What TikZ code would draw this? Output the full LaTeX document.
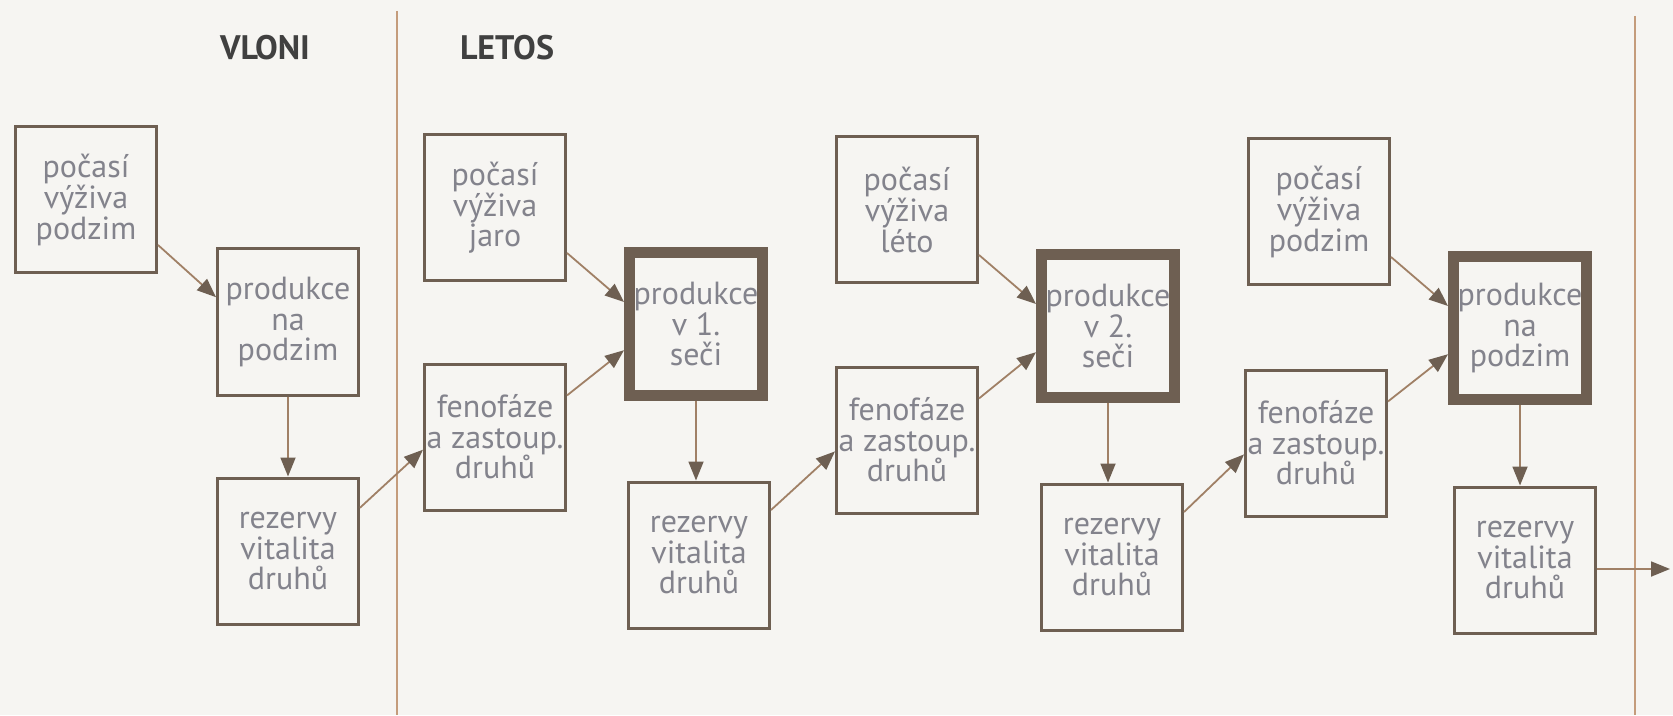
\documentclass[tikz,border=0pt]{standalone}
\usepackage{fontspec}
\setmainfont{PT Sans}
\usetikzlibrary{arrows.meta}
\definecolor{bgpaper}{HTML}{F6F5F2}
\definecolor{boxbrown}{HTML}{6E5F52}
\definecolor{txtgray}{HTML}{83838C}
\definecolor{linetan}{HTML}{C49C7C}
\definecolor{arrowtan}{HTML}{A08066}

\begin{document}
\begin{tikzpicture}[x=0.5pt, y=-0.5pt,
        >={Triangle[length=9.5pt,width=7.5pt,color=boxbrown]}]
      \tikzstyle{factor} = [draw=boxbrown, line width=1.5pt, minimum width=70.5pt,
        minimum height=73pt, inner sep=0pt, align=center, text=txtgray,
        font=\fontsize{16}{15.3}\selectfont]
      \tikzstyle{harvest} = [factor, line width=5.5pt, minimum width=66.5pt, minimum height=71pt]
      \tikzstyle{flow} = [->, draw=arrowtan, line width=0.9pt]
      \tikzstyle{season} = [font=\fontsize{17}{19}\selectfont\bfseries, text=black!75]
      \fill[bgpaper] (0,0) rectangle (1673,715);
      \draw[linetan, line width=0.8pt] (397,11) -- (397,715);
      \draw[linetan, line width=0.8pt] (1635,16) -- (1635,715);
      \node (VLONI) [season] at (265,48) {VLONI};
      \node (LETOS) [season] at (507,48) {LETOS};
      % last year
      \node (POCA) [factor] at (86,200) {počasí\\výživa\\podzim};
      \node (PRODA) [factor] at (288,322) {produkce\\na\\podzim};
      \node (REZA) [factor] at (288,551) {rezervy\\vitalita\\druhů};
      % first cut
      \node (POCB) [factor] at (495,208) {počasí\\výživa\\jaro};
      \node (FENB) [factor] at (495,437) {fenofáze\\a zastoup.\\druhů};
      \node (PRODB) [harvest] at (696,324) {produkce\\v 1.\\seči};
      \node (REZB) [factor] at (699,555) {rezervy\\vitalita\\druhů};
      % second cut
      \node (POCC) [factor] at (907,210) {počasí\\výživa\\léto};
      \node (FENC) [factor] at (907,440) {fenofáze\\a zastoup.\\druhů};
      \node (PRODC) [harvest] at (1108,326) {produkce\\v 2.\\seči};
      \node (REZC) [factor] at (1112,557) {rezervy\\vitalita\\druhů};
      % autumn
      \node (POCD) [factor] at (1319,212) {počasí\\výživa\\podzim};
      \node (FEND) [factor] at (1316,443) {fenofáze\\a zastoup.\\druhů};
      \node (PRODD) [harvest] at (1520,328) {produkce\\na\\podzim};
      \node (REZD) [factor] at (1525,560) {rezervy\\vitalita\\druhů};
      \coordinate (OUT) at (1670,569);

      \draw[flow] (POCA.-32) -- (PRODA.161);
      \draw[flow] (PRODA.south) -- (PRODA.south |- REZA.north);
      \draw[flow] (REZA.31) -- (FENB.-170);
      \draw[flow] (POCB.-32) -- (PRODB.163);
      \draw[flow] (FENB.30) -- (PRODB.-160);
      \draw[flow] (PRODB.south) -- (PRODB.south |- REZB.north);
      \draw[flow] (REZB.32) -- (FENC.-171);
      \draw[flow] (POCC.-32) -- (PRODC.163);
      \draw[flow] (FENC.30) -- (PRODC.-160);
      \draw[flow] (PRODC.south) -- (PRODC.south |- REZC.north);
      \draw[flow] (REZC.32) -- (FEND.-171);
      \draw[flow] (POCD.-32) -- (PRODD.163);
      \draw[flow] (FEND.30) -- (PRODD.-160);
      \draw[flow] (PRODD.south) -- (PRODD.south |- REZD.north);
      \draw[flow] (REZD.east |- OUT) -- (OUT);
    \end{tikzpicture}
\end{document}
